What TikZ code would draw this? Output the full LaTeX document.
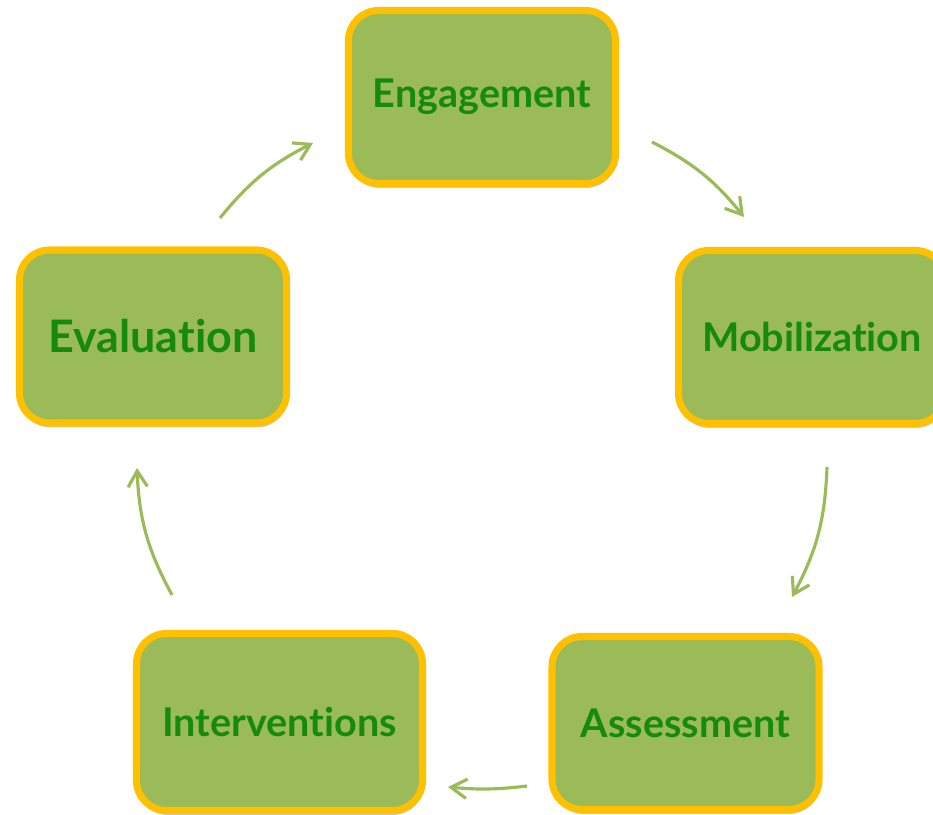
\documentclass[tikz,border=0pt]{standalone}
\usepackage{fontspec}
\newfontfamily\boxfont{Lato}[Ligatures=NoCommon]
\usetikzlibrary{arrows.meta,shadows}
\definecolor{boxgreen}{HTML}{9BBB59}
\definecolor{boxgold}{HTML}{FFC000}
\definecolor{textgreen}{HTML}{168A0C}
\tikzset{
  cyclebox/.style={draw=boxgold, fill=boxgreen, line width=4pt, rounded corners=0.6cm,
    minimum width=5.34cm, minimum height=3.46cm, text=textgreen,
    font=\boxfont\bfseries\fontsize{22.5}{27}\selectfont,
    drop shadow={shadow xshift=0.5pt, shadow yshift=-2.5pt, opacity=0.35, fill=black!60}},
  cyclearrow/.style={draw=boxgreen, line width=1.8pt, -{Straight Barb[length=9pt,width=11pt]}}
}
\begin{document}
\begin{tikzpicture}
    \useasboundingbox (0, 0) rectangle (18.66, 16.28);
    \clip (0, 0) rectangle (18.66, 16.28);
    % boxes of the cycle
    \node[cyclebox] (engage) at (9.64, 14.34) {Engagement};
    \node[cyclebox] (mobil) at (16.24, 9.54) {Mobilization};
    \node[cyclebox] (assess) at (13.71, 1.82) {Assessment};
    \node[cyclebox, minimum width=5.72cm, minimum height=3.54cm] (interv) at (5.59, 1.84) {Interventions};
    \node[cyclebox, font=\boxfont\bfseries\fontsize{25.5}{30}\selectfont] (eval) at (3.06, 9.55) {Evaluation};
    % ends of the arrows
    \coordinate (a1s) at (4.40, 11.92);
    \coordinate (a1e) at (6.26, 13.42);
    \coordinate (a2s) at (13.04, 13.44);
    \coordinate (a2e) at (14.88, 11.94);
    \coordinate (a3s) at (16.54, 6.94);
    \coordinate (a3e) at (15.84, 4.34);
    \coordinate (a4s) at (10.54, 0.56);
    \coordinate (a4e) at (8.96, 0.54);
    \coordinate (a5s) at (3.44, 4.38);
    \coordinate (a5e) at (2.74, 6.92);
    \draw[cyclearrow] (a1s) to[bend left=12] (a1e);
    \draw[cyclearrow] (a2s) to[bend left=12] (a2e);
    \draw[cyclearrow] (a3s) to[bend left=13] (a3e);
    \draw[cyclearrow] (a4s) to[bend left=6] (a4e);
    \draw[cyclearrow] (a5s) to[bend left=13] (a5e);
\end{tikzpicture}
\end{document}
